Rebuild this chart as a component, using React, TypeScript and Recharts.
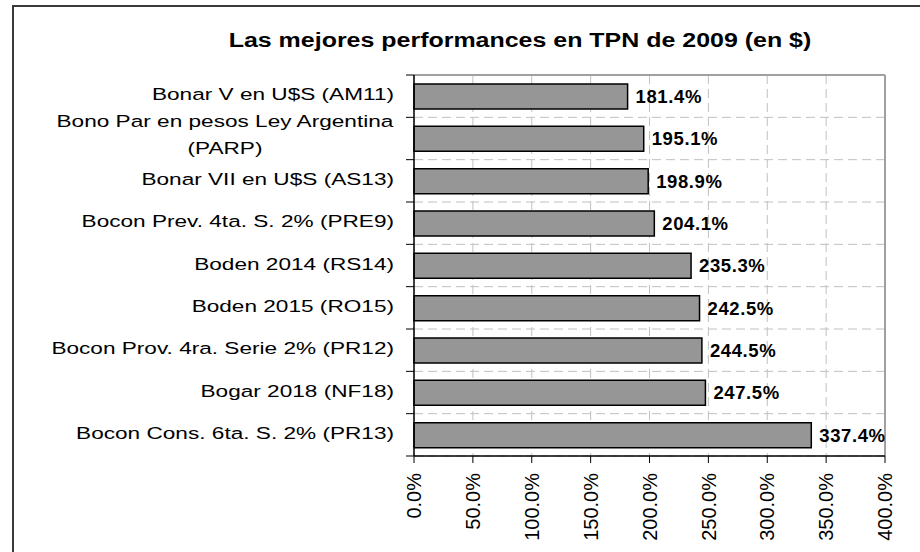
import { BarChart, Bar, XAxis, YAxis, CartesianGrid, LabelList } from "recharts"

const FONT = "'Liberation Sans', Arial, sans-serif"

const names = [
  "Bonar V en U$S (AM11)",
  "Bono Par en pesos Ley Argentina (PARP)",
  "Bonar VII en U$S (AS13)",
  "Bocon Prev. 4ta. S. 2% (PRE9)",
  "Boden 2014 (RS14)",
  "Boden 2015 (RO15)",
  "Bocon Prov. 4ra. Serie 2% (PR12)",
  "Bogar 2018 (NF18)",
  "Bocon Cons. 6ta. S. 2% (PR13)",
]
const returns = [181.4, 195.1, 198.9, 204.1, 235.3, 242.5, 244.5, 247.5, 337.4]
const xTicks = [0, 50, 100, 150, 200, 250, 300, 350, 400]

const rows = names.map((name, i) => ({ name, value: returns[i] }))
// boundaries between categories: 0..n
const bounds = names.map((_, i) => i).concat(names.length)

const W = 920
const H = 552
const M = { top: 75, right: 35, bottom: 0, left: 0 }
const X_AXIS_H = 96
const PLOT_H = H - M.top - M.bottom - X_AXIS_H

const LABEL_SIZE = 17
const LABEL_STRETCH = 1.33

function wrap(s: string, max: number) {
  const lines: string[] = []
  let cur = ""
  for (const w of s.split(" ")) {
    const t = cur ? cur + " " + w : w
    if (t.length > max && cur) {
      lines.push(cur)
      cur = w
    } else cur = t
  }
  if (cur) lines.push(cur)
  return lines
}

let ctx: CanvasRenderingContext2D | null = null
function measure(s: string) {
  if (!ctx) ctx = document.createElement("canvas").getContext("2d")
  if (!ctx) return s.length * 8
  ctx.font = `${LABEL_SIZE}px ${FONT}`
  return ctx.measureText(s).width
}

function CatTick(props: any) {
  const { x, y, payload, index, visibleTicksCount } = props
  const count = visibleTicksCount || names.length
  const axisH = typeof props.height === "number" && props.height > 0 ? props.height : PLOT_H
  const band = axisH / count
  const common = { fontFamily: FONT, fontSize: LABEL_SIZE, fill: "#000" }
  const lines = wrap(String(payload.value), 32)
  const n = lines.length
  const w = n > 1 ? Math.max(...lines.map(measure)) : 0
  return (
    <g>
      <line x1={x - 8} x2={x} y1={y - band / 2} y2={y - band / 2} stroke="#000" />
      {index === count - 1 && <line x1={x - 8} x2={x} y1={y + band / 2} y2={y + band / 2} stroke="#000" />}
      <g transform={`translate(${x - 20},${y}) scale(${LABEL_STRETCH},1)`}>
        {n === 1 ? (
          <text textAnchor="end" y={4} {...common}>{lines[0]}</text>
        ) : (
          lines.map((l, k) => (
            <text key={k} x={-w / 2} y={-4 + (k - (n - 1) / 2) * 28 + 6} textAnchor="middle" {...common}>
              {l}
            </text>
          ))
        )}
      </g>
    </g>
  )
}

function XTick(props: any) {
  const { x, y, payload } = props
  return (
    <g transform={`translate(${x},${y})`}>
      <text transform="rotate(-90)" textAnchor="end" dy="0.36em" fontFamily={FONT} fontSize={20} fill="#000">
        {Number(payload.value).toFixed(1)}%
      </text>
    </g>
  )
}

function ValueLabel(p: any) {
  const { x, y, width, height, value } = p
  return (
    <text
      x={x + width + 8}
      y={y + height / 2 + 6.5}
      fontFamily={FONT}
      fontSize={18.5}
      fontWeight="bold"
      letterSpacing={0.6}
      fill="#000"
    >
      {Number(value).toFixed(1)}%
    </text>
  )
}

export default function App() {
  return (
    <div style={{ position: "fixed", left: 0, top: 0, width: W, height: H, overflow: "hidden", background: "#fff" }}>
      <div
        style={{
          position: "absolute",
          left: 12,
          top: 5,
          width: 1000,
          height: 700,
          border: "2px solid #3a3a3a",
        }}
      />
      <div
        style={{
          position: "absolute",
          left: 519.5,
          top: 30.8,
          transform: "translateX(-50%) scaleX(1.28)",
          whiteSpace: "nowrap",
          fontFamily: FONT,
          fontSize: 19.5,
          lineHeight: "19.5px",
          fontWeight: "bold",
          color: "#000",
        }}
      >
        Las mejores performances en TPN de 2009 (en $)
      </div>
      <div style={{ position: "absolute", left: 0, top: 0 }}>
        <BarChart width={W} height={H} data={rows} layout="vertical" margin={M}>
          {/* dashed grid on category boundaries and x ticks */}
          <CartesianGrid
            horizontalCoordinatesGenerator={({ offset }: any) =>
              bounds.map((b) => offset.top + (offset.height * b) / names.length)
            }
            stroke="#c0c0c0"
            strokeDasharray="9 5"
          />
          {/* solid grey frame on top and right */}
          <CartesianGrid
            horizontalCoordinatesGenerator={({ offset }: any) => [offset.top]}
            verticalCoordinatesGenerator={({ offset }: any) => [offset.left + offset.width]}
            stroke="#a0a0a0"
            strokeWidth={2}
          />
          <XAxis
            type="number"
            domain={[0, 400]}
            ticks={xTicks}
            interval={0}
            tickSize={7}
            tickMargin={10}
            height={X_AXIS_H}
            axisLine={{ stroke: "#000", strokeWidth: 1.5 }}
            tickLine={{ stroke: "#000" }}
            tick={<XTick />}
          />
          <YAxis
            type="category"
            dataKey="name"
            interval={0}
            width={414}
            tickSize={0}
            tickMargin={0}
            tickLine={false}
            axisLine={{ stroke: "#000", strokeWidth: 1.5 }}
            tick={<CatTick />}
          />
          <Bar
            dataKey="value"
            fill="#969696"
            stroke="#000"
            strokeWidth={1.5}
            barSize={25}
            isAnimationActive={false}
          >
            <LabelList dataKey="value" content={<ValueLabel />} />
          </Bar>
        </BarChart>
      </div>
    </div>
  )
}
